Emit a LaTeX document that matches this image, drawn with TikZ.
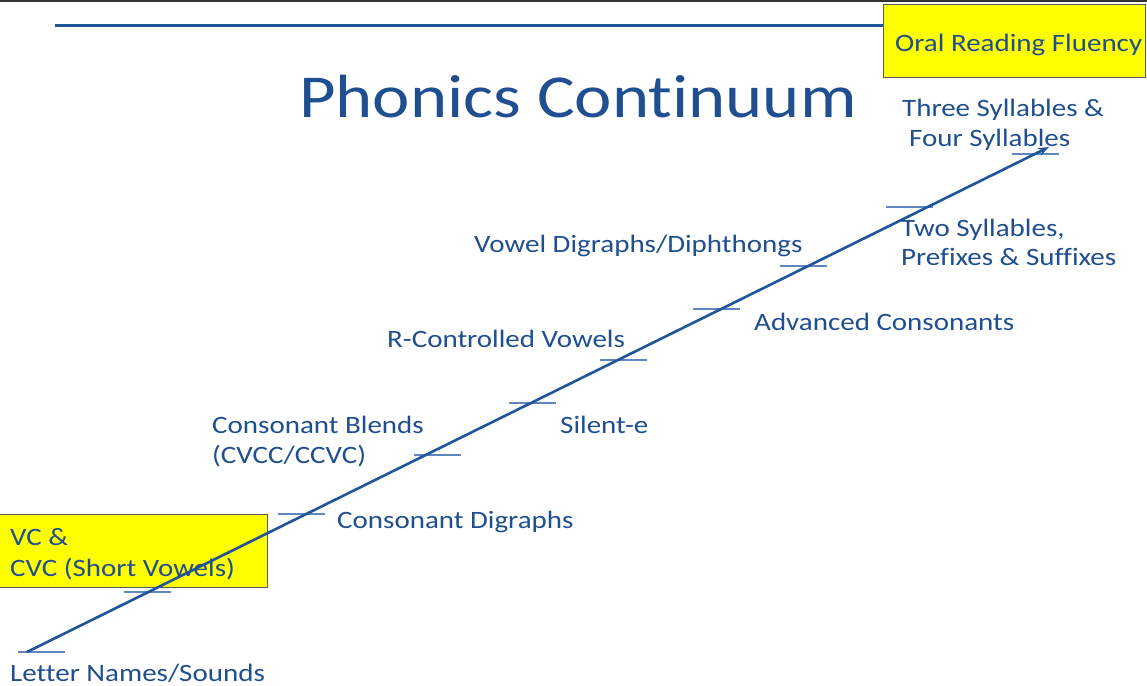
\documentclass[tikz,border=0pt]{standalone}
\usepackage{fontspec}
\setmainfont{Carlito}[FakeStretch=1.16, Ligatures={NoCommon}]
\usetikzlibrary{arrows.meta}
\definecolor{inkblue}{RGB}{31,78,145}
\definecolor{lineblue}{RGB}{30,85,155}
\definecolor{tickblue}{RGB}{95,135,190}
\definecolor{hiyellow}{RGB}{255,255,0}
\definecolor{boxedge}{RGB}{90,90,90}
\tikzset{
  lbl/.style={anchor=base west, inner sep=0pt, text=inkblue, font=\fontsize{25}{30}\selectfont, align=left},
  hibox/.style={fill=hiyellow, draw=boxedge, line width=0.9pt},
  tickmark/.style={draw=tickblue, line width=1.1pt},
  mainline/.style={draw=lineblue, line width=2.6pt},
}
\begin{document}
\begin{tikzpicture}[x=1pt,y=-1pt]
\useasboundingbox (0,0) rectangle (1147,685);
\fill[white] (0,0) rectangle (1147,685);
% frame edge along the top
\draw[black!80, line width=2pt] (0,1) -- (1147,1);

% highlighted boxes
\node[hibox, inner sep=0pt, minimum width=262pt, minimum height=72pt, anchor=north west] (orf) at (883,4.5) {};
\node[hibox, inner sep=0pt, minimum width=268pt, minimum height=73pt, anchor=north west] (vc) at (-1,514) {};

% title rule running into the fluency box
\coordinate (ruleL) at (55,26);
\draw[mainline, line width=3pt] (ruleL) -- (ruleL -| orf.west);

% title
\node[anchor=base, inner sep=0pt, text=inkblue, font=\fontsize{61}{70}\selectfont] (title) at (578,117) {Phonics Continuum};

% tick marks along the continuum
\foreach \n/\x/\y in {t0/18/652, t1/124/592, t2/278/514, t3/414/455, t4/509/403, t5/600/360, t6/693/309, t7/780/266, t8/886/207, t9/1012/154}{
  \coordinate (\n a) at (\x,\y);
  \coordinate (\n b) at (\x+47,\y);
  \draw[tickmark] (\n a) -- (\n b);
}

% the continuum arrow
\coordinate (start) at (27,652);
\coordinate (finish) at (1049,147);
\draw[mainline, -{Stealth[length=11pt,width=8pt]}] (start) -- (finish);

% stage labels
\node[lbl] (l0) at (10,681) {Letter Names/Sounds};
\node[lbl] (l1a) at (10,545) {VC \&};
\node[lbl] (l1b) at (10,576) {CVC (Short Vowels)};
\node[lbl] (l2) at (337,528) {Consonant Digraphs};
\node[lbl] (l3a) at (212,433) {Consonant Blends};
\node[lbl] (l3b) at (212,463) {(CVCC/CCVC)};
\node[lbl] (l4) at (560,433) {Silent-e};
\node[lbl] (l5) at (387,347) {R-Controlled Vowels};
\node[lbl] (l6) at (754,330) {Advanced Consonants};
\node[lbl] (l7) at (474,252) {Vowel Digraphs/Diphthongs};
\node[lbl] (l8a) at (901,236) {Two Syllables,};
\node[lbl] (l8b) at (901,265) {Prefixes \& Suffixes};
\node[lbl] (l9a) at (902,116) {Three Syllables \&};
\node[lbl] (l9b) at (909,146) {Four Syllables};
\node[lbl] (l10) at (895,52) {Oral Reading Fluency};
\end{tikzpicture}
\end{document}
